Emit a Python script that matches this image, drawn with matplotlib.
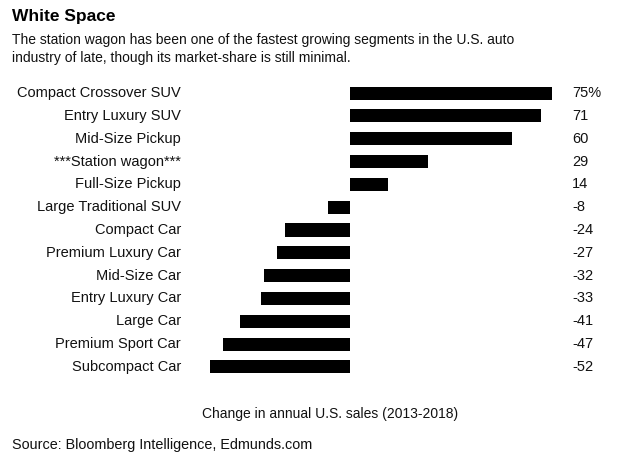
import matplotlib.pyplot as plt

# Data
segments = ['Compact Crossover SUV', 'Entry Luxury SUV', 'Mid-Size Pickup',
            '***Station wagon***', 'Full-Size Pickup', 'Large Traditional SUV',
            'Compact Car', 'Premium Luxury Car', 'Mid-Size Car', 'Entry Luxury Car',
            'Large Car', 'Premium Sport Car', 'Subcompact Car']
change = [75, 71, 60, 29, 14, -8, -24, -27, -32, -33, -41, -47, -52]
value_labels = ['75%', '71', '60', '29', '14', '-8', '-24', '-27', '-32', '-33',
                '-41', '-47', '-52']

plt.rcParams['font.family'] = ['Liberation Sans', 'DejaVu Sans']

fig = plt.figure(figsize=(6.37, 4.72), dpi=100)
W, H = 637, 472

ax = fig.add_axes([200 / W, 1 - 378.4 / H, 360 / W, 296.8 / H])
y = list(range(len(segments)))
ax.barh(y, change, height=0.57, color='black')
ax.set_xlim(-55.7, 78.0)
ax.set_ylim(len(segments) - 0.5, -0.5)
ax.axis('off')

# category labels and values
for i, (name, lab) in enumerate(zip(segments, value_labels)):
    ax.annotate(name, xy=(0, i), xycoords=('axes fraction', 'data'),
                xytext=(181 - 200, 0), textcoords='offset pixels',
                ha='right', va='center', fontsize=10.5, color='#111111')
    ax.annotate(lab, xy=(1, i), xycoords=('axes fraction', 'data'),
                xytext=(572 - 560, 0), textcoords='offset pixels',
                ha='left', va='center', fontsize=10.5, color='#111111')

fig.text(12 / W, 1 - 17 / H, 'White Space', fontsize=12.5, fontweight='bold',
         ha='left', va='center', color='black')
fig.text(12 / W, 1 - 49 / H,
         'The station wagon has been one of the fastest growing segments in the U.S. auto\n'
         'industry of late, though its market-share is still minimal.',
         fontsize=10.0, ha='left', va='center', linespacing=1.3, color='#111111')
fig.text(330 / W, 1 - 414 / H, 'Change in annual U.S. sales (2013-2018)',
         fontsize=10, ha='center', va='center', color='#111111')
fig.text(12 / W, 1 - 445 / H, 'Source: Bloomberg Intelligence, Edmunds.com',
         fontsize=10.4, ha='left', va='center', color='#111111')

fig.savefig('out.png', dpi=100, facecolor='white')
